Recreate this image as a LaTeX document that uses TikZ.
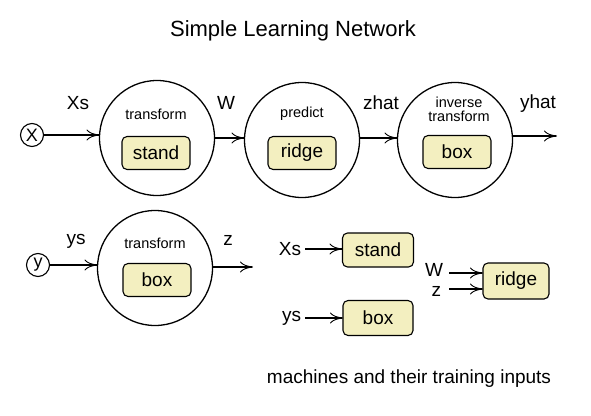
\documentclass[tikz,border=0pt]{standalone}
\usepackage{fontspec}
\setmainfont{Liberation Sans}
\usetikzlibrary{arrows.meta}
\definecolor{boxfill}{HTML}{F3EFC0}
\tikzset{
  every node/.style={inner sep=0pt, outer sep=0pt},
  bigcirc/.style={circle, draw, line width=1.3pt, minimum size=115pt},
  varcirc/.style={circle, draw, line width=1.1pt, minimum size=23pt, font=\fontsize{18}{20}\selectfont},
  mbox/.style={draw, line width=1.1pt, rounded corners=5pt, fill=boxfill, minimum width=68pt, minimum height=33pt, font=\fontsize{19}{22}\selectfont},
  lbl/.style={font=\fontsize{19}{22}\selectfont},
  small/.style={font=\fontsize{14.5}{16}\selectfont, align=center},
  conn/.style={line width=1.1pt, -{Computer Modern Rightarrow[length=13pt,width=11pt,line width=0.9pt]}},
}
\begin{document}
\begin{tikzpicture}[x=1pt,y=-1pt]
\useasboundingbox (0,0) rectangle (591,415);
\node[font=\fontsize{22}{26}\selectfont] (title) at (293,31) {Simple Learning Network};
% top row
\node[varcirc] (X) at (32,135) {X};
\node[bigcirc] (c1) at (157,138) {};
\node[bigcirc] (c2) at (302,140) {};
\node[bigcirc] (c3) at (455,140) {};
\node[small] (t1) at (156,114) {transform};
\node[small] (t2) at (302,114) {predict};
\node[small] (t3) at (459,109) {inverse\\[-2pt]transform};
\node[mbox] (b1) at (156,153) {stand};
\node[mbox] (b2) at (302,153) {ridge};
\node[mbox] (b3) at (457,152) {box};
\coordinate (out1) at (557,136);
\draw[conn] (X.east) -- (c1.west |- X.east);
\draw[conn] (c1.east) -- (c2.west |- c1.east);
\draw[conn] (c2.east |- c1.east) -- (c3.west |- c1.east);
\draw[conn] (c3.east |- out1) -- (out1);
\node[lbl] (lXs) at (78,103) {Xs};
\node[lbl] (lW) at (226,103) {W};
\node[lbl] (lzhat) at (381,103) {zhat};
\node[lbl] (lyhat) at (538,104) {yhat};
% bottom row
\node[varcirc] (y) at (38,265) {y};
\node[bigcirc] (c4) at (155,268) {};
\node[small] (t4) at (155,243) {transform};
\node[mbox] (b4) at (157,280) {box};
\coordinate (out2) at (253,267);
\draw[conn] (y.east) -- (c4.west |- y.east);
\draw[conn] (c4.east |- out2) -- (out2);
\node[lbl] (lys) at (76,241) {ys};
\node[lbl] (lz) at (228,240) {z};
% training inputs
\node[mbox, minimum width=71pt, minimum height=34pt] (s1) at (378,250) {stand};
\node[mbox, minimum width=70pt, minimum height=35pt] (s2) at (378,318) {box};
\node[mbox, minimum width=66pt, minimum height=36pt] (s3) at (516,281) {ridge};
\node[lbl, anchor=east] (iXs) at (301,249) {Xs};
\node[lbl, anchor=east] (iys) at (301,318) {ys};
\node[lbl, anchor=east] (iW) at (443,270) {W};
\node[lbl, anchor=east] (iz) at (441,291) {z};
\draw[conn] (iXs.east) ++(4,0) coordinate (a1) (a1) -- (s1.west |- a1);
\draw[conn] (iys.east) ++(4,0) coordinate (a2) (a2) -- (s2.west |- a2);
\coordinate (a3) at (449,273);
\coordinate (a4) at (449,289);
\draw[conn] (a3) -- (s3.west |- a3);
\draw[conn] (a4) -- (s3.west |- a4);
\node[lbl] (caption) at (409,379) {machines and their training inputs};
\end{tikzpicture}
\end{document}
